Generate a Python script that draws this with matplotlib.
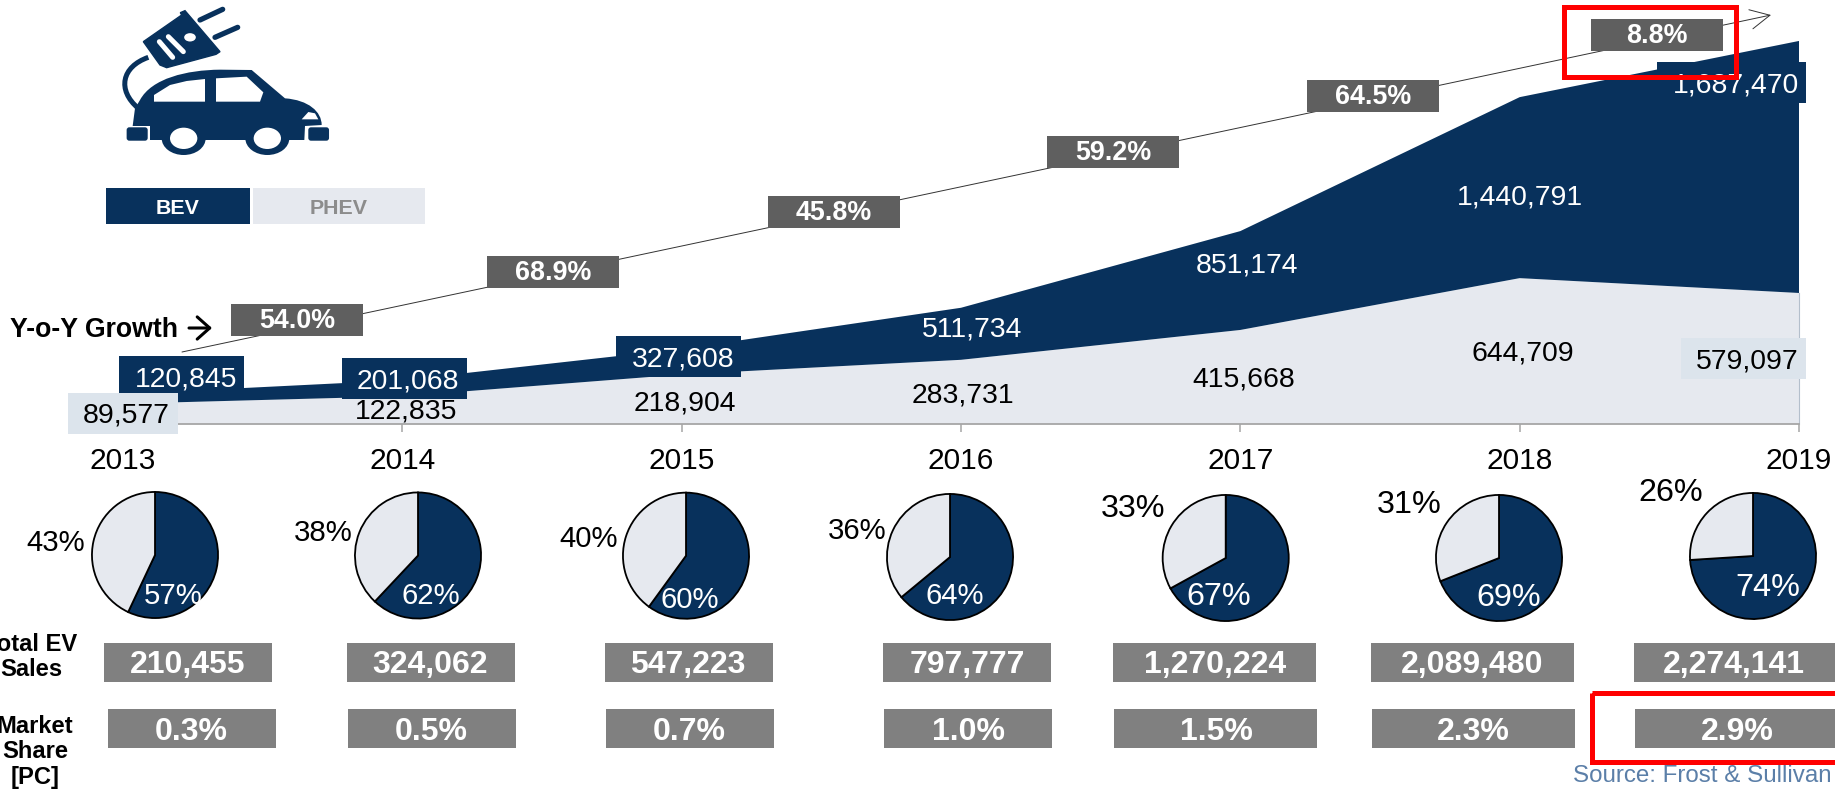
import matplotlib
matplotlib.use('Agg')
import matplotlib.pyplot as plt
from matplotlib.patches import Rectangle, Polygon, Ellipse, FancyBboxPatch, PathPatch
from matplotlib.path import Path

plt.rcParams['font.family'] = ['Liberation Sans', 'DejaVu Sans']

# data:
# -----
years = [2013, 2014, 2015, 2016, 2017, 2018, 2019]
bev_labels = ['120,845', '201,068', '327,608', '511,734', '851,174', '1,440,791', '1,687,470']
phev_labels = ['89,577', '122,835', '218,904', '283,731', '415,668', '644,709', '579,097']
phev_area = [89577, 122835, 218904, 283731, 415668, 644709, 579097]
# the BEV band is not drawn to the scale of its labels, these are read off the band:
bev_area = [43000, 71000, 113000, 230000, 437000, 800000, 1114000]
growth = ['54.0%', '68.9%', '45.8%', '59.2%', '64.5%', '8.8%']
bev_share = [57, 62, 60, 64, 67, 69, 74]
phev_share = [43, 38, 40, 36, 33, 31, 26]
total_sales = ['210,455', '324,062', '547,223', '797,777', '1,270,224', '2,089,480', '2,274,141']
market_share = ['0.3%', '0.5%', '0.7%', '1.0%', '1.5%', '2.3%', '2.9%']

navy = '#08315C'
light = '#E6E9EF'
label_bg = '#DCE4EC'
dark_grey = '#5F5F5F'
mid_grey = '#808080'

W, H = 1835, 792
fig = plt.figure(figsize=(W/100, H/100), dpi=100)

# stacked area, 4420 units per pixel above the baseline at y=424:
# ---------------------------------------------------------------
x0, x1, y_base = 123, 1799, 424
ymax = 1700000
h_ax = ymax/4420
ax = fig.add_axes([x0/W, (H-y_base)/H, (x1-x0)/W, h_ax/H], zorder=1)
ax.stackplot(years, phev_area, bev_area, colors=[light, navy], linewidth=0)
ax.plot([2019, 2019], [0, phev_area[-1]], color='#B4BFCC', lw=0.8, clip_on=False)
ax.set_xlim(2013, 2019)
ax.set_ylim(0, ymax)
ax.patch.set_alpha(0)
ax.set_yticks([])
ax.set_xticks(years)
ax.tick_params(axis='x', length=5.8, width=1.1, color='#A6A6A6', pad=11, labelsize=21.5)
for s in ['top', 'left', 'right']:
    ax.spines[s].set_visible(False)
ax.spines['bottom'].set_color('#A6A6A6')
ax.spines['bottom'].set_linewidth(1.3)

# pies:
# -----
pie_x = [155, 418, 686, 950, 1225.7, 1499, 1753]
pie_y = [555, 555.5, 555.7, 557, 558, 558, 556]
r = 64
for i in range(0, 7):
    a = fig.add_axes([(pie_x[i]-r)/W, (H-pie_y[i]-r)/H, 2*r/W, 2*r/H], zorder=2)
    a.pie([bev_share[i], phev_share[i]], colors=[navy, light], startangle=90, counterclock=False,
          radius=0.985, wedgeprops=dict(edgecolor='k', linewidth=1.3))
    a.set_xlim(-1, 1)
    a.set_ylim(-1, 1)

# overlay in picture pixels for boxes and text:
# ---------------------------------------------
ov = fig.add_axes([0, 0, 1, 1], zorder=5)
ov.set_xlim(0, W)
ov.set_ylim(H, 0)
ov.axis('off')

def box(x, y, x2, y2, color, z=2):
    ov.add_patch(Rectangle((x, y), x2-x, y2-y, facecolor=color, edgecolor='none', zorder=z))

def txt(x, y, s, size=20.4, color='k', weight='normal'):
    ov.text(x, y+2, s, fontsize=size, color=color, fontweight=weight, ha='center', va='center', zorder=3)

# growth arrow:
ov.annotate('', xy=(1771, 15), xytext=(182, 352), zorder=1,
            arrowprops=dict(arrowstyle='->,head_length=1.4,head_width=0.7', mutation_scale=10,
                            color='#333333', lw=0.7, shrinkA=0, shrinkB=0))

growth_x = [231, 487, 768, 1047, 1307, 1591]
growth_y = [304, 256, 196, 136, 80, 19]
for i in range(0, 6):
    box(growth_x[i], growth_y[i], growth_x[i]+132, growth_y[i]+32, dark_grey)
    txt(growth_x[i]+66, growth_y[i]+15, growth[i], size=19.4, color='w', weight='bold')
ov.text(10, 330, 'Y-o-Y Growth', fontsize=19.2, fontweight='bold', ha='left', va='center')
ov.annotate('', xy=(212, 328), xytext=(189, 328),
            arrowprops=dict(arrowstyle='->,head_length=0.9,head_width=0.8', mutation_scale=10,
                            color='k', lw=2.2, shrinkA=0, shrinkB=0))

# label backgrounds, BEV first so that the 2013 PHEV box sits on top of it:
box(119, 356, 244, 397, navy)
box(342, 358, 467, 399, navy)
box(616, 336, 741, 377, navy)
box(1657, 62, 1806, 103, navy)
box(68, 393, 178, 434, label_bg)
box(1681, 338, 1806, 379, label_bg)

bev_x = [186, 408, 683, 972, 1247, 1520, 1736]
bev_y = [378, 380, 357, 327, 264, 195, 83]
phev_x = [126, 406, 685, 963, 1244, 1523, 1747]
phev_y = [414, 410, 401, 393, 377, 351, 359]
for i in range(0, 7):
    txt(bev_x[i], bev_y[i], bev_labels[i], color='w')
    txt(phev_x[i], phev_y[i], phev_labels[i])

# pie labels, the last three are set larger:
phev_lx = [56, 323, 589, 857, 1133, 1409, 1671]
phev_ly = [541, 531, 537, 529, 507, 503, 491]
bev_lx = [173, 431, 690, 955, 1219, 1509, 1768]
bev_ly = [594, 594, 598, 594, 595, 596, 586]
for i in range(0, 7):
    size = 21.2 if i < 4 else 23.3
    txt(phev_lx[i], phev_ly[i], repr(phev_share[i])+'%', size=size)
    txt(bev_lx[i], bev_ly[i], repr(bev_share[i])+'%', size=size, color='w')

# rows of grey boxes:
total_l = [104, 347, 605, 883, 1113, 1371, 1634]
total_r = [272, 515, 773, 1051, 1316, 1574, 1837]
total_tx = [188, 430, 688, 967, 1215, 1472, 1734]
market_l = [108, 348, 606, 884, 1114, 1372, 1635]
market_r = [276, 516, 774, 1052, 1317, 1575, 1838]
market_tx = [191, 431, 689, 968, 1216, 1473, 1737]
for i in range(0, 7):
    box(total_l[i], 643, total_r[i], 682, mid_grey)
    txt(total_tx[i], 663, total_sales[i], size=23, color='w', weight='bold')
    box(market_l[i], 709, market_r[i], 748, mid_grey)
    txt(market_tx[i], 729.5, market_share[i], size=23, color='w', weight='bold')

ov.text(31, 657, 'Total EV\nSales', fontsize=17.1, fontweight='bold', ha='center', va='center',
        linespacing=1.14, multialignment='center')
ov.text(35, 752, 'Market\nShare\n[PC]', fontsize=17.1, fontweight='bold', ha='center', va='center',
        linespacing=1.14, multialignment='center')
ov.text(1832, 776, 'Source: Frost & Sullivan', fontsize=17.4, color='#5B7FA8', ha='right', va='center')

# legend:
box(106, 188, 250, 223.5, navy)
box(253, 188, 425, 223.5, light)
txt(178, 207, 'BEV', size=15.4, color='w', weight='bold')
txt(339, 207, 'PHEV', size=15.4, color='#8C8C8C', weight='bold')

# red highlight frames:
for (rx, ry, rw, rh) in [(1563.5, 7, 172, 69.5), (1592, 692.5, 260, 69)]:
    ov.add_patch(Rectangle((rx, ry), rw, rh, facecolor='none', edgecolor='#FF0000', lw=3.6, zorder=6))

# car and plug icon, points taken from a 3x crop:
# -----------------------------------------------
def p3(pts):
    return [(x/3, y/3) for (x, y) in pts]

body = [Path.MOVETO] + [Path.LINETO]*2 + [Path.CURVE4]*3 + [Path.LINETO]*2 + [Path.CURVE4]*3 + [Path.LINETO]*4 + [Path.CLOSEPOLY]
body_pts = [(398, 378), (405, 325), (420, 300), (455, 235), (560, 210), (660, 209),
            (755, 210), (855, 295), (925, 300), (965, 335), (965, 375),
            (915, 378), (913, 420), (450, 420), (450, 378), (398, 378)]
ov.add_patch(PathPatch(Path(p3(body_pts), body), facecolor=navy, edgecolor='none', zorder=2))
for cx in [551, 802]:
    ov.add_patch(Ellipse((cx/3, 415/3), 132/3, 100/3, facecolor=navy, edgecolor='none', zorder=2))
    ov.add_patch(Ellipse((cx/3, 415/3), 82/3, 64/3, facecolor='w', edgecolor='none', zorder=3))
for (bx, by, bw) in [(380, 382, 63), (925, 382, 62)]:
    ov.add_patch(FancyBboxPatch(((bx+8)/3, (by+8)/3), (bw-16)/3, 24/3, boxstyle='round,pad=2.7',
                                facecolor=navy, edgecolor='none', zorder=2))
ov.add_patch(Polygon(p3([(462, 305), (462, 285), (510, 255), (560, 243), (615, 237), (615, 305)]), facecolor='w', zorder=3))
ov.add_patch(Polygon(p3([(648, 305), (648, 235), (740, 230), (790, 277), (780, 305)]), facecolor='w', zorder=3))
ov.add_patch(Polygon(p3([(905, 358), (925, 336), (945, 340), (955, 358)]), facecolor='w', zorder=3))

cable = [Path.MOVETO, Path.CURVE4, Path.CURVE4, Path.CURVE4]
ov.add_patch(PathPatch(Path(p3([(445, 172), (365, 200), (350, 270), (415, 325)]), cable),
                       facecolor='none', edgecolor=navy, lw=3.6, zorder=2))
ov.add_patch(Polygon(p3([(430, 125), (545, 45), (541, 38), (555, 32), (660, 155), (648, 163),
                         (500, 203), (480, 195)]), facecolor=navy, edgecolor=navy, zorder=2))
for (a1, b1, a2, b2, c, w) in [(600, 60, 668, 28, navy, 3.8), (645, 112, 713, 82, navy, 3.8),
                               (478, 125, 518, 172, 'w', 3.6), (505, 110, 550, 155, 'w', 3.6)]:
    ov.plot([a1/3, a2/3], [b1/3, b2/3], color=c, lw=w, solid_capstyle='round', zorder=3)
ov.add_patch(Ellipse((570/3, 112/3), 35/3, 25/3, facecolor='w', edgecolor='none', zorder=3))

fig.savefig('out.png', dpi=100)
